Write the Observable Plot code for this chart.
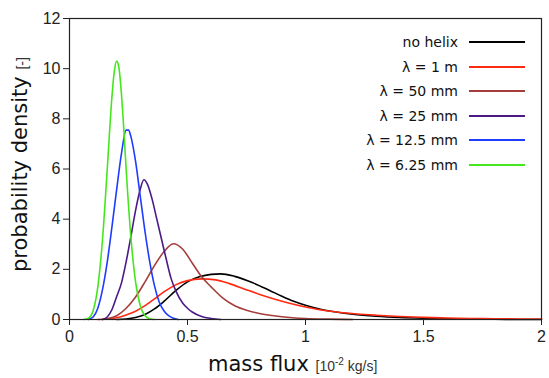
<!DOCTYPE html>
<html><head><meta charset="utf-8">
<script src="https://cdn.jsdelivr.net/npm/d3@7"></script>
<script src="https://cdn.jsdelivr.net/npm/@observablehq/plot@0.6"></script>
<style>
body{margin:0;background:#fff}
#wrap{position:relative;width:549px;height:378px}
#legend{position:absolute;top:30px;right:24px;font-family:"DejaVu Sans",sans-serif;font-size:14px;color:#111}
#legend .row{display:flex;align-items:center;justify-content:flex-end;height:24.5px}
#legend .sw{width:56px;height:2px;margin-left:11px}
</style>
</head><body><div id="wrap"><div id="legend"></div></div>
<script>
const seriesNames = ["no helix","λ = 1 m","λ = 50 mm","λ = 25 mm","λ = 12.5 mm","λ = 6.25 mm"];
const seriesColors = ["#000000","#ff2a12","#a53e3a","#4b1a87","#1d3cff","#45e61e"];
const xTicks = [0,0.5,1,1.5,2];
const yTicks = [0,2,4,6,8,10,12];

const xNoHelix = [0.20,0.24,0.28,0.32,0.36,0.40,0.45,0.50,0.55,0.60,0.64,0.70,0.78,0.85,0.90,0.95,1.00,1.06,1.13,1.20,1.30,1.40,1.50,1.60,1.70,1.80,1.90,2.00];
const yNoHelix = [0,0.02,0.08,0.20,0.42,0.72,1.15,1.50,1.70,1.80,1.82,1.72,1.45,1.15,0.93,0.73,0.57,0.42,0.30,0.21,0.13,0.08,0.05,0.03,0.015,0.007,0.003,0];

const x1m = [0.12,0.16,0.20,0.24,0.28,0.32,0.36,0.40,0.45,0.50,0.56,0.62,0.68,0.74,0.80,0.86,0.92,1.00,1.06,1.14,1.22,1.30,1.40,1.50,1.60,1.70,1.80,1.90,2.00];
const y1m = [0,0.02,0.07,0.18,0.33,0.55,0.82,1.10,1.38,1.55,1.62,1.58,1.42,1.22,1.02,0.84,0.68,0.50,0.39,0.29,0.22,0.17,0.12,0.085,0.06,0.04,0.03,0.02,0.015];

const x50 = [0.14,0.16,0.20,0.24,0.28,0.32,0.36,0.40,0.44,0.48,0.52,0.56,0.60,0.65,0.70,0.75,0.80,0.85,0.90,1.00,1.10,1.20];
const y50 = [0,0.03,0.15,0.45,0.90,1.50,2.15,2.70,3.02,2.80,2.25,1.70,1.30,0.85,0.55,0.37,0.25,0.17,0.11,0.04,0.015,0];

const x25 = [0.14,0.16,0.18,0.20,0.22,0.24,0.26,0.28,0.30,0.315,0.33,0.35,0.37,0.39,0.41,0.43,0.45,0.48,0.50,0.52,0.56,0.60,0.64];
const y25 = [0,0.10,0.40,0.92,1.45,2.30,3.30,4.35,5.20,5.57,5.40,4.80,4.00,3.20,2.40,1.65,1.15,0.65,0.45,0.30,0.12,0.04,0];

const x125 = [0.08,0.10,0.12,0.14,0.16,0.18,0.20,0.22,0.24,0.25,0.26,0.28,0.30,0.32,0.34,0.36,0.38,0.40,0.42,0.44,0.46];
const y125 = [0,0.10,0.45,1.20,2.30,3.70,5.20,6.60,7.55,7.55,7.30,6.30,4.90,3.50,2.30,1.35,0.70,0.35,0.15,0.05,0];

const x625 = [0.06,0.08,0.10,0.12,0.14,0.16,0.18,0.19,0.20,0.21,0.22,0.23,0.24,0.26,0.28,0.30,0.32,0.34,0.36];
const y625 = [0,0.05,0.35,1.30,3.20,6.00,8.90,9.90,10.30,10.00,9.00,7.60,6.00,3.30,1.50,0.55,0.15,0.03,0];

const xs = [xNoHelix,x1m,x50,x25,x125,x625];
const ys = [yNoHelix,y1m,y50,y25,y125,y625];
const data = [];
seriesNames.forEach((n,i)=>xs[i].forEach((x,j)=>data.push({series:n,x,y:ys[i][j]})));

const plot = Plot.plot({
  width:549, height:378,
  marginLeft:69, marginRight:8, marginTop:18, marginBottom:59,
  style:{fontFamily:"Liberation Sans, Arial, sans-serif", fontSize:"16px", color:"#222", background:"#fff"},
  x:{domain:[0,2]},
  y:{domain:[0,12]},
  color:{domain:seriesNames, range:seriesColors},
  marks:[
    Plot.axisX({ticks:xTicks, tickFormat:d=>String(d), tickSize:6, tickPadding:5, label:null, fontSize:16}),
    Plot.axisY({ticks:yTicks, tickSize:6, tickPadding:3, label:null, fontSize:16}),
    Plot.line(data,{x:"x", y:"y", z:"series", stroke:"series", curve:"monotone-x", strokeWidth:1.6}),
    Plot.frame({stroke:"#222", strokeWidth:1.2})
  ]
});
const svg = d3.select(plot);
const xl = svg.append("text").attr("x",208).attr("y",371).attr("text-anchor","start").attr("fill","#111");
xl.append("tspan").attr("font-family","DejaVu Sans").attr("font-size",21).text("mass flux ");
xl.append("tspan").attr("font-family","Liberation Sans").attr("font-size",14).attr("fill","#333").text("[10");
xl.append("tspan").attr("font-family","Liberation Sans").attr("font-size",10).attr("dy",-6).attr("fill","#333").text("-2");
xl.append("tspan").attr("font-family","Liberation Sans").attr("font-size",14).attr("dy",6).attr("fill","#333").text(" kg/s]");
const yl = svg.append("text").attr("transform","translate(27,272) rotate(-90)").attr("text-anchor","start").attr("fill","#111");
yl.append("tspan").attr("font-family","DejaVu Sans").attr("font-size",21).text("probability density ");
yl.append("tspan").attr("font-family","Liberation Sans").attr("font-size",14).attr("fill","#333").text("[-]");

document.getElementById("wrap").prepend(plot);
const leg = d3.select("#legend");
seriesNames.forEach((n,i)=>{
  const r = leg.append("div").attr("class","row");
  r.append("span").text(n);
  r.append("span").attr("class","sw").style("background",seriesColors[i]);
});
</script>
</body></html>
